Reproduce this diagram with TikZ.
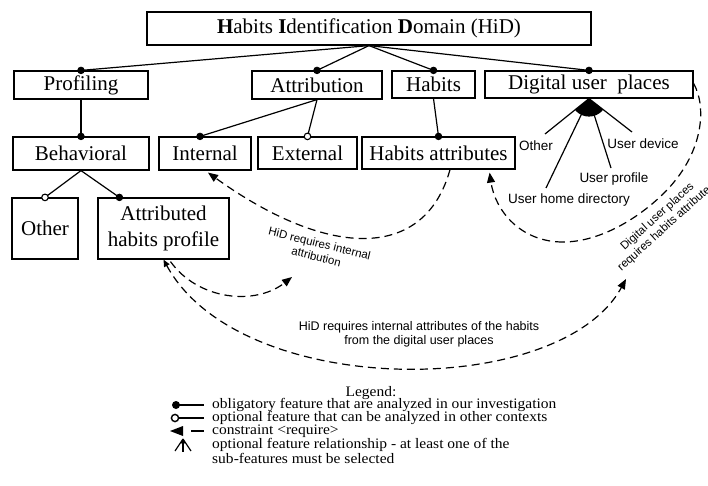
\documentclass[tikz,border=0pt]{standalone}
\usepackage{fontspec}
\setmainfont{Liberation Serif}
\newfontfamily\lsans{Liberation Sans}
\newfontfamily\legfont[FakeStretch=1.07]{Liberation Serif}
\usetikzlibrary{arrows.meta,calc}
\tikzset{
  fbox/.style={draw, line width=1.2pt, inner sep=0pt, font=\fontsize{21}{26}\selectfont, align=center},
  conn/.style={line width=1.2pt},
  dsh/.style={line width=1.2pt, dash pattern=on 8pt off 5pt},
  req/.style={-{Triangle[length=10pt,width=8pt]}},
  dot/.style={fill=black, draw=black, line width=0.8pt},
  odot/.style={fill=white, draw=black, line width=1.1pt},
  lbl/.style={font=\lsans\fontsize{13.5}{16}\selectfont, inner sep=0pt},
  clbl/.style={font=\lsans\fontsize{11.5}{13.5}\selectfont, inner sep=0pt, align=center},
  leg/.style={font=\legfont\fontsize{14.5}{16}\selectfont, inner sep=0pt, anchor=west}
}
\begin{document}
\begin{tikzpicture}[x=1pt,y=-1pt]
\useasboundingbox (0,0) rectangle (708,486);
\clip (0,0) rectangle (708,486);
% boxes
\node[fbox, minimum width=444pt, minimum height=33pt] (hid) at (369,28.5) {\textbf{H}abits \textbf{I}dentification \textbf{D}omain (HiD)};
\node[fbox, minimum width=134pt, minimum height=28pt] (prof) at (81,85) {Profiling};
\node[fbox, minimum width=130pt, minimum height=28pt] (attr) at (317,85) {Attribution};
\node[fbox, minimum width=83pt, minimum height=27pt] (hab) at (433.5,84.5) {Habits};
\node[fbox, minimum width=208pt, minimum height=27pt] (dup) at (589,84.5) {Digital user\ \ places};
\node[fbox, minimum width=136pt, minimum height=33pt] (beh) at (81,153.5) {Behavioral};
\node[fbox, minimum width=92pt, minimum height=33pt] (int) at (205,153.5) {Internal};
\node[fbox, minimum width=99pt, minimum height=32pt] (ext) at (307.5,153) {External};
\node[fbox, minimum width=153pt, minimum height=32pt] (hatt) at (438.5,153) {Habits attributes};
\node[fbox, minimum width=66pt, minimum height=61pt] (oth) at (45,228.5) {Other};
\node[fbox, minimum width=131pt, minimum height=61pt] (ahp) at (163.5,228.5) {Attributed\\habits profile};
% tree connectors
\coordinate (intdot) at ($(int.north)+(-5,0)$);
\coordinate (ahpdot) at ($(ahp.north west)+(22,0)$);
\draw[conn] (hid.south) -- (prof.north);
\draw[conn] (hid.south) -- (attr.north);
\draw[conn] (hid.south) -- (hab.north);
\draw[conn] (hid.south) -- (dup.north);
\draw[conn] (prof.south) -- (beh.north);
\draw[conn] (attr.south) -- (intdot);
\draw[conn] (attr.south) -- (ext.north);
\draw[conn] (hab.south) -- (hatt.north);
\draw[conn] (beh.south) -- (oth.north);
\draw[conn] (beh.south) -- (ahpdot);
\foreach \p in {prof.north,attr.north,hab.north,dup.north,beh.north,intdot,hatt.north,ahpdot}
  \fill[dot] (\p) circle (3.3pt);
\foreach \p in {ext.north,oth.north}
  \draw[odot] (\p) circle (3.3pt);
% or-group of digital user places
\coordinate (o1) at (545,134);
\coordinate (o2) at (546,188);
\coordinate (o3) at (611,168);
\coordinate (o4) at (632,132);
\begin{scope}
  \clip (dup.south) -- ($(dup.south)!3!(o1)$) -- ($(dup.south)!3!(o4)$) -- cycle;
  \fill (dup.south) circle (18pt);
\end{scope}
\foreach \p in {o1,o2,o3,o4} \draw[conn] (dup.south) -- (\p);
\node[lbl] (lo1) at (536,146) {Other};
\node[lbl] (lo2) at (569,200) {User home directory};
\node[lbl] (lo3) at (614,179) {User profile};
\node[lbl] (lo4) at (643,144) {User device};
% require constraints (dashed)
\coordinate (hattb) at ($(hatt.south)+(11.5,0)$);
\coordinate (intb) at ($(int.south)+(3,2)$);
\draw[dsh, req] (hattb) .. controls (425,260) and (330,260) .. (intb);
\node[clbl, rotate=-14] (l1) at (318,250) {HiD requires internal\\attribution};
\coordinate (tipB) at (292,277);
\draw[dsh, req] ($(ahp.south)+(7,2)$) .. controls (198,300) and (255,306) .. (tipB);
\coordinate (tipC) at (626,279);
\draw[dsh, {Triangle[length=7pt,width=6pt]}-{Triangle[length=10pt,width=8pt]}] (ahp.south) .. controls (240,400) and (560,400) .. (tipC);
\node[clbl, font=\lsans\fontsize{12.5}{14}\selectfont] (l2) at (419,334) {HiD requires internal attributes of the habits\\from the digital user places};
\coordinate (dupr) at ($(dup.east)+(0,-1)$);
\coordinate (hattr) at ($(hatt.south east)+(-26,3)$);
\coordinate (bm) at (667,190);
\coordinate (bd) at (563,242);
\draw[dsh] (dupr) .. controls (706,105) and (705,150) .. (bm) .. controls (640,218) and (600,242) .. (bd);
\draw[dsh, req] (bd) .. controls (520,242) and (495,210) .. (hattr);
\node[clbl, rotate=42] (l3) at (662,222) {Digital user places\\requires habits attributes};
% legend
\node[font=\legfont\fontsize{14.5}{16}\selectfont, inner sep=0pt] (legt) at (371,393) {Legend:};
\node[leg] (lg1) at (212,405) {obligatory feature that are analyzed in our investigation};
\node[leg] (lg2) at (212,418) {optional feature that can be analyzed in other contexts};
\node[leg] (lg3) at (212,431) {constraint <require>};
\node[leg] (lg4) at (212,445) {optional feature relationship - at least one of the};
\node[leg] (lg5) at (212,458) {sub-features must be selected};
\coordinate (s1) at (176,405);
\draw[conn] (s1) -- ($(lg1.west)+(-8,0)$);
\fill (s1) circle (4pt);
\coordinate (s2) at (175,418);
\draw[conn] ($(s2)+(4,0)$) -- ($(lg2.west)+(-8,0)$);
\draw[line width=1.4pt] (s2) circle (3.6pt);
\fill (170,431) -- (183,426) -- (183,436) -- cycle;
\draw[conn] (191,431) -- ($(lg3.west)+(-8,0)$);
\coordinate (s4) at (183,439);
\begin{scope}
  \clip (s4) -- ($(s4)+(-12,18)$) -- ($(s4)+(12,18)$) -- cycle;
  \fill (s4) circle (5pt);
\end{scope}
\draw[line width=1.2pt] (s4) -- ++(-8,12);
\draw[line width=1.2pt] (s4) -- ++(0,13);
\draw[line width=1.2pt] (s4) -- ++(8,12);
\end{tikzpicture}
\end{document}
